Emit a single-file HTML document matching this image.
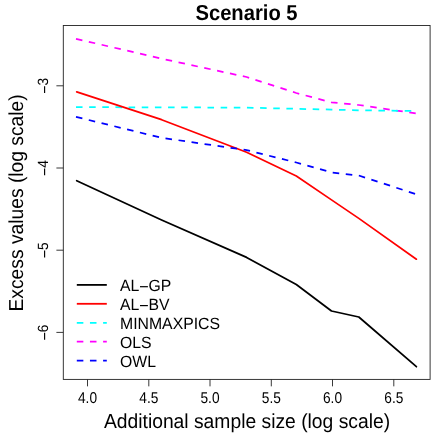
<!DOCTYPE html>
<html><head><meta charset="utf-8"><style>
html,body{margin:0;padding:0;background:#fff;}
svg{display:block;text-rendering:geometricPrecision;will-change:transform;font-family:"Liberation Sans",sans-serif;}
</style></head><body>
<svg width="443" height="443" viewBox="0 0 443 443">
<rect width="443" height="443" fill="#fff"/>
<g fill="none" stroke-width="1.75">
<polyline points="76.7,180.7 161.6,220.0 246.6,257.4 296.3,284.5 331.5,311.0 358.8,317.0 416.4,366.7" stroke="#000" stroke-linecap="round" stroke-linejoin="round"/>
<polyline points="76.0,38.8 161.6,58.7 246.6,77.0 296.3,93.0 331.5,102.4 358.8,105.0 416.4,113.5" stroke="#f0f" stroke-dasharray="6.55 6.6"/>
<polyline points="76.0,107.2 161.6,107.3 246.6,107.7 296.3,108.8 331.5,109.6 358.8,110.3 416.4,111.0" stroke="#0ff" stroke-dasharray="6.55 6.6"/>
<polyline points="76.7,91.8 161.6,119.7 246.6,152.3 296.3,176.0 331.5,199.9 358.8,218.4 416.4,259.2" stroke="#f00" stroke-linecap="round" stroke-linejoin="round"/>
<polyline points="76.0,116.9 161.6,137.8 246.6,150.1 296.3,162.5 331.5,172.4 358.8,175.5 416.4,194.3" stroke="#00f" stroke-dasharray="6.55 6.6"/>
</g>
<g fill="none" stroke="#222" stroke-width="0.9">
<rect x="63.3" y="25.5" width="366.8" height="353.9"/>
<path d="M87.5,379.45v6.9"/>
<path d="M148.8,379.45v6.9"/>
<path d="M210.0,379.45v6.9"/>
<path d="M271.3,379.45v6.9"/>
<path d="M332.5,379.45v6.9"/>
<path d="M393.8,379.45v6.9"/>
<path d="M63.3,85.8h-6.9"/>
<path d="M63.3,168.0h-6.9"/>
<path d="M63.3,250.2h-6.9"/>
<path d="M63.3,332.4h-6.9"/>
</g>
<g fill="#000">
<text transform="translate(87.5,402.7) scale(1,1.14)" text-anchor="middle" font-size="13.7">4.0</text>
<text transform="translate(148.8,402.7) scale(1,1.14)" text-anchor="middle" font-size="13.7">4.5</text>
<text transform="translate(210.0,402.7) scale(1,1.14)" text-anchor="middle" font-size="13.7">5.0</text>
<text transform="translate(271.3,402.7) scale(1,1.14)" text-anchor="middle" font-size="13.7">5.5</text>
<text transform="translate(332.5,402.7) scale(1,1.14)" text-anchor="middle" font-size="13.7">6.0</text>
<text transform="translate(393.8,402.7) scale(1,1.14)" text-anchor="middle" font-size="13.7">6.5</text>
<g transform="translate(48.2,85.8) rotate(-90)"><text transform="scale(1,1.08)" x="0.2" font-size="13.7">3</text><path d="M-7.3,-3.6H-0.4" stroke="#000" stroke-width="1.15"/></g>
<g transform="translate(48.2,168.0) rotate(-90)"><text transform="scale(1,1.08)" x="0.2" font-size="13.7">4</text><path d="M-7.3,-3.6H-0.4" stroke="#000" stroke-width="1.15"/></g>
<g transform="translate(48.2,250.2) rotate(-90)"><text transform="scale(1,1.08)" x="0.2" font-size="13.7">5</text><path d="M-7.3,-3.6H-0.4" stroke="#000" stroke-width="1.15"/></g>
<g transform="translate(48.2,332.4) rotate(-90)"><text transform="scale(1,1.08)" x="0.2" font-size="13.7">6</text><path d="M-7.3,-3.6H-0.4" stroke="#000" stroke-width="1.15"/></g>
<text transform="translate(246.5,20.1) scale(1,1.07)" text-anchor="middle" font-size="20.2" font-weight="bold">Scenario 5</text>
<text transform="translate(247.0,427.9) scale(1,1.05)" text-anchor="middle" font-size="19.3">Additional sample size (log scale)</text>
<text transform="translate(23,202.9) rotate(-90) scale(1,1.05)" text-anchor="middle" font-size="19.25">Excess values (log scale)</text>
</g>
<path d="M76.8,284.9H106.8" stroke="#000" stroke-width="1.8" fill="none"/>
<text transform="translate(120.0,290.9) scale(1,1.03)" font-size="15.8">AL<tspan dx="9.23">GP</tspan></text>
<path d="M140.0,286.7H147.9" stroke="#000" stroke-width="1.2"/>
<path d="M76.8,303.8H106.8" stroke="#f00" stroke-width="1.8" fill="none"/>
<text transform="translate(120.0,309.8) scale(1,1.03)" font-size="15.8">AL<tspan dx="9.23">BV</tspan></text>
<path d="M140.0,305.6H147.9" stroke="#000" stroke-width="1.2"/>
<path d="M76.8,322.9H106.8" stroke="#0ff" stroke-width="1.8" fill="none" stroke-dasharray="6.55 6.6"/>
<text transform="translate(120.0,328.9) scale(1,1.03)" font-size="15.8">MINMAXPICS</text>
<path d="M76.8,341.7H106.8" stroke="#f0f" stroke-width="1.8" fill="none" stroke-dasharray="6.55 6.6"/>
<text transform="translate(120.0,347.7) scale(1,1.03)" font-size="15.8">OLS</text>
<path d="M76.8,360.7H106.8" stroke="#00f" stroke-width="1.8" fill="none" stroke-dasharray="6.55 6.6"/>
<text transform="translate(120.0,366.7) scale(1,1.03)" font-size="15.8">OWL</text>
</svg>
</body></html>
